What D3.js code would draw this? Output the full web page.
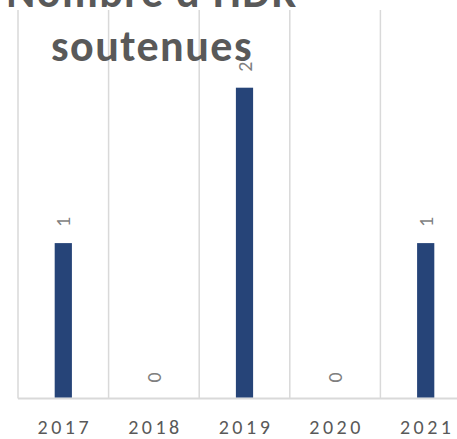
<!DOCTYPE html>
<html>
<head>
<meta charset="utf-8">
<script src="https://cdn.jsdelivr.net/npm/d3@7"></script>
<style>
  body { margin: 0; background: #fff; }
  svg { display: block; }
</style>
</head>
<body>
<script>
"use strict"

// Nombre d'HDR soutenues, per year

var years = ["2017", "2018", "2019", "2020", "2021"]
var hdr = [1, 0, 2, 0, 1]
var titleLines = ["Nombre d'HDR", "soutenues"]

var width = 457
var height = 439
var font = "Carlito, Calibri, Lato, sans-serif"

var svg = d3.select("body").append("svg")
  .attr("width", width)
  .attr("height", height)

var x = d3.scaleBand()
  .domain(years)
  .range([18, 471])
  .padding(0)

var y = d3.scaleLinear()
  .domain([0, 2.5])
  .range([398.5, 10])

var barW = x.bandwidth() * 0.19

// vertical gridlines between categories
svg.append("g")
  .selectAll("line")
  .data(years.concat(["end"]))
  .enter().append("line")
    .attr("x1", function(d, i) { return 18 + i * x.bandwidth() })
    .attr("x2", function(d, i) { return 18 + i * x.bandwidth() })
    .attr("y1", y(2.5))
    .attr("y2", y(0))
    .attr("stroke", "#d9d9d9")
    .attr("stroke-width", 1.5)

// baseline
svg.append("line")
  .attr("x1", 18)
  .attr("x2", width)
  .attr("y1", y(0))
  .attr("y2", y(0))
  .attr("stroke", "#d9d9d9")
  .attr("stroke-width", 2)

var data = years.map(function(d, i) { return { year: d, value: hdr[i] } })

svg.append("g")
  .selectAll("rect")
  .data(data)
  .enter().append("rect")
    .attr("x", function(d) { return x(d.year) + x.bandwidth() / 2 - barW / 2 })
    .attr("y", function(d) { return y(d.value) })
    .attr("width", barW)
    .attr("height", function(d) { return y(0) - y(d.value) - 1 })
    .attr("fill", "#264478")

// value labels, rotated
svg.append("g")
  .selectAll("text")
  .data(data)
  .enter().append("text")
    .attr("transform", function(d) {
      var cx = x(d.year) + x.bandwidth() / 2
      return "translate(" + cx + "," + (y(d.value) - 16) + ") rotate(-90)"
    })
    .attr("dy", "0.35em")
    .style("font-family", font)
    .style("font-size", "20px")
    .style("fill", "#7f7f7f")
    .text(function(d) { return d.value })

// category labels
svg.append("g")
  .selectAll("text")
  .data(years)
  .enter().append("text")
    .attr("x", function(d) { return x(d) + x.bandwidth() / 2 + 1.5 })
    .attr("y", 434)
    .attr("text-anchor", "middle")
    .style("font-family", font)
    .style("font-size", "20px")
    .style("letter-spacing", "3.5px")
    .style("fill", "#595959")
    .text(function(d) { return d })

// title (cropped at the top)
svg.append("g")
  .selectAll("text")
  .data(titleLines)
  .enter().append("text")
    .attr("x", 152)
    .attr("y", function(d, i) { return 7 + i * 54 })
    .attr("text-anchor", "middle")
    .style("font-family", font)
    .style("font-size", "44px")
    .style("font-weight", "bold")
    .style("letter-spacing", "1.5px")
    .style("fill", "#595959")
    .text(function(d) { return d })
</script>
</body>
</html>
